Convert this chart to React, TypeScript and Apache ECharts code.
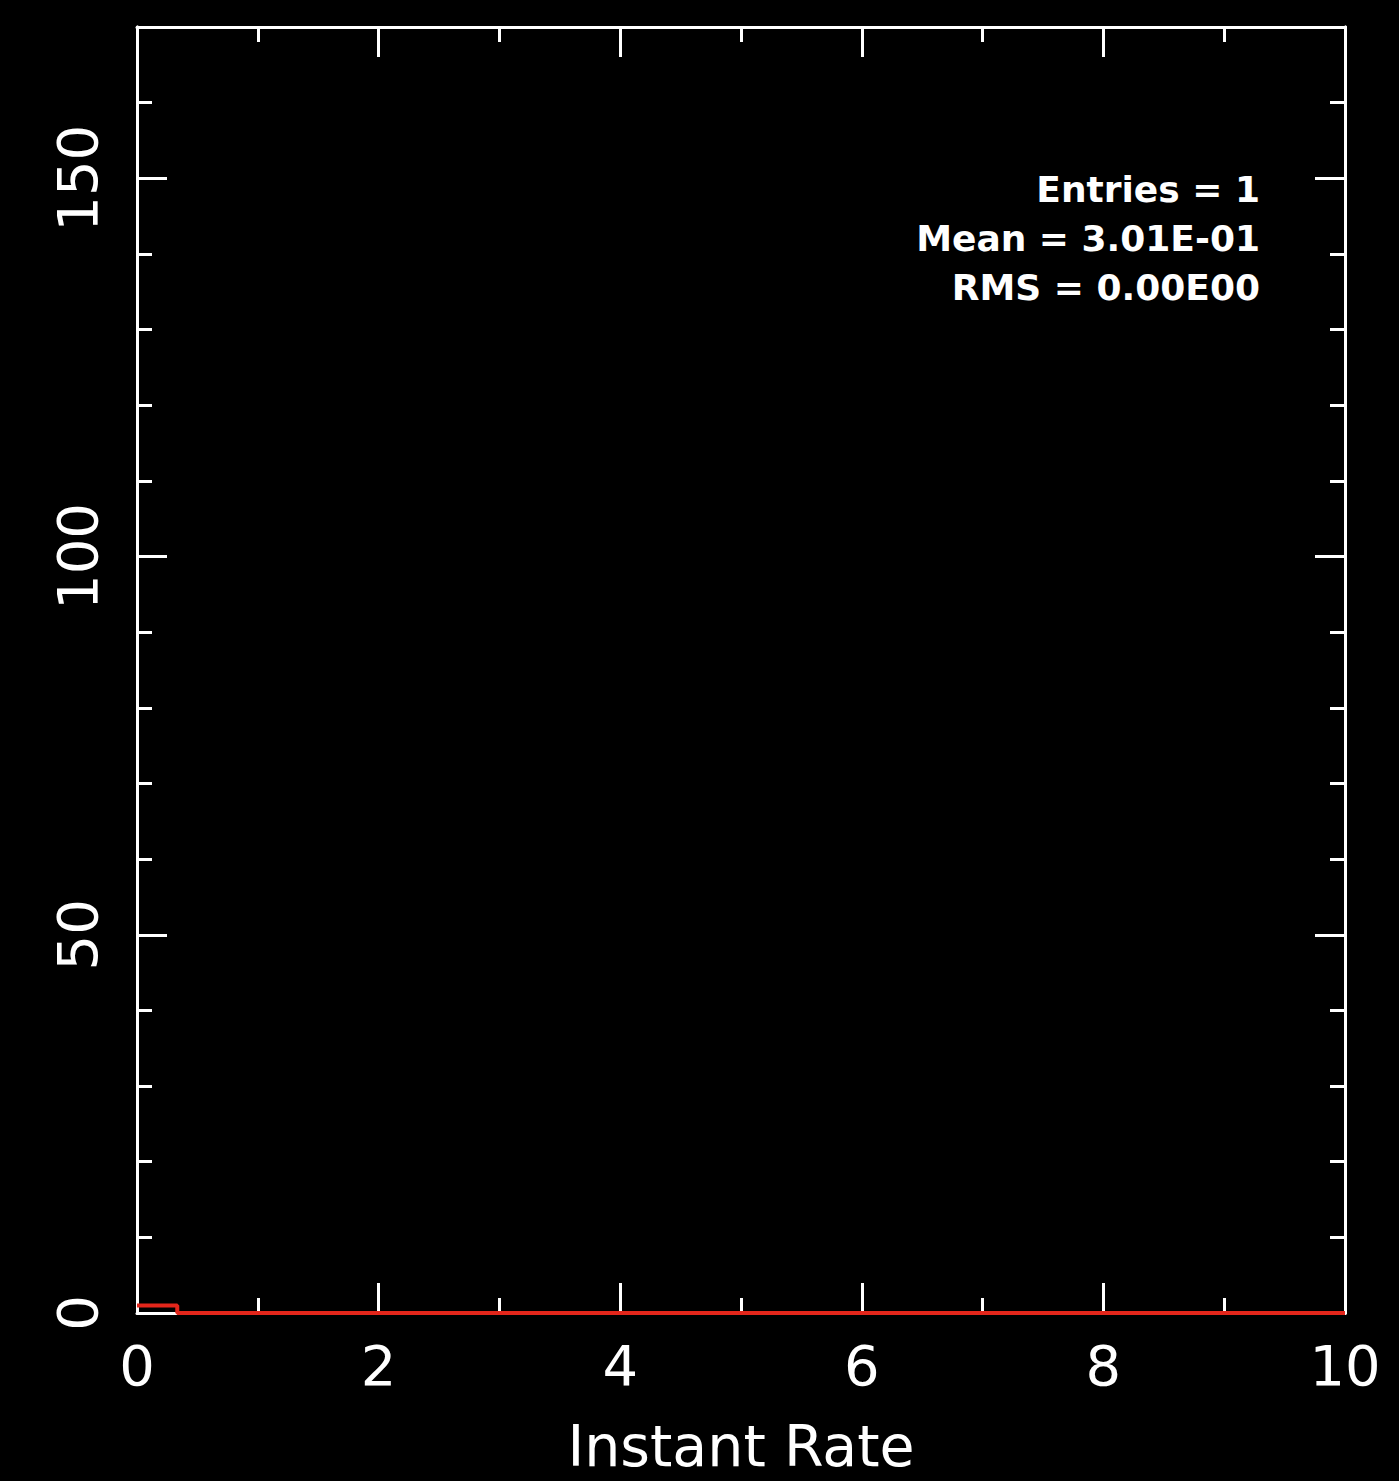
import { useEffect, useRef } from "react";
import * as echarts from "echarts";

// Histogram of instant rate: 30 bins over [0, 10]
const BIN_WIDTH = 1 / 3;
const binCounts = [
  1, 0, 0, 0, 0, 0, 0, 0, 0, 0,
  0, 0, 0, 0, 0, 0, 0, 0, 0, 0,
  0, 0, 0, 0, 0, 0, 0, 0, 0, 0,
];

// Axis ranges and tick spacing
const X_MIN = 0;
const X_MAX = 10;
const X_MAJOR = 2;
const Y_MIN = 0;
const Y_MAX = 170;
const Y_MAJOR = 50;
const Y_MINOR = 10;

const X_TITLE = "Instant Rate";
const statLines = ["Entries = 1", "Mean = 3.01E-01", "RMS = 0.00E00"];

const FONT = "DejaVu Sans";
const WHITE = "#ffffff";
const HIST_RED = "#e3261b";

export default function App() {
  const ref = useRef<HTMLDivElement | null>(null);

  useEffect(() => {
    if (!ref.current) return;
    const chart = echarts.init(ref.current, undefined, { renderer: "svg" });

    // outline of the histogram as a step path
    const stepPoints: number[][] = [];
    binCounts.forEach((c, i) => {
      stepPoints.push([i * BIN_WIDTH, c]);
      stepPoints.push([Math.min((i + 1) * BIN_WIDTH, X_MAX), c]);
    });

    const line = { color: WHITE, width: 3 };

    const xBase = {
      type: "value" as const,
      min: X_MIN,
      max: X_MAX,
      interval: X_MAJOR,
      axisLine: { show: true, onZero: false, lineStyle: line },
      axisTick: { show: true, inside: true, length: 30, lineStyle: line },
      minorTick: { show: true, splitNumber: 2, length: 15, lineStyle: line },
      splitLine: { show: false },
      minorSplitLine: { show: false },
    };

    const yBase = (interval: number, len: number, pos: "left" | "right") => ({
      type: "value" as const,
      position: pos,
      min: Y_MIN,
      max: Y_MAX,
      interval,
      axisLine: { show: true, onZero: false, lineStyle: line },
      axisTick: { show: true, inside: true, length: len, lineStyle: line },
      splitLine: { show: false },
      axisLabel: { show: false },
    });

    chart.setOption({
      animation: false,
      backgroundColor: "#000000",
      grid: {
        left: 137,
        right: 54,
        top: 27,
        bottom: 168,
        outerBoundsMode: "none",
      },
      xAxis: [
        {
          ...xBase,
          position: "bottom",
          axisLabel: {
            color: WHITE,
            fontFamily: FONT,
            fontSize: 56,
            margin: 24,
          },
          name: X_TITLE,
          nameLocation: "middle",
          nameGap: 104,
          nameTextStyle: {
            color: WHITE,
            fontFamily: FONT,
            fontSize: 57,
          },
        },
        {
          ...xBase,
          position: "top",
          axisLabel: { show: false },
        },
      ],
      yAxis: [
        {
          ...yBase(Y_MAJOR, 30, "left"),
          axisLabel: {
            show: true,
            rotate: 90,
            color: WHITE,
            fontFamily: FONT,
            fontSize: 56,
            margin: 32,
            showMaxLabel: false,
          },
        },
        yBase(Y_MINOR, 15, "left"),
        yBase(Y_MAJOR, 30, "right"),
        yBase(Y_MINOR, 15, "right"),
      ],
      series: [
        {
          type: "line",
          xAxisIndex: 0,
          yAxisIndex: 0,
          data: stepPoints,
          showSymbol: false,
          symbol: "none",
          lineStyle: { color: HIST_RED, width: 4 },
          z: 5,
        },
      ],
      graphic: statLines.map((t, i) => ({
        type: "text",
        x: 1260,
        y: 189 + i * 49,
        z: 10,
        style: {
          text: t,
          fill: WHITE,
          fontFamily: FONT,
          fontWeight: "bold",
          fontSize: 36,
          align: "right",
          verticalAlign: "middle",
        },
      })),
    });

    return () => chart.dispose();
  }, []);

  return (
    <div
      ref={ref}
      style={{
        position: "absolute",
        left: 0,
        top: 0,
        width: 1399,
        height: 1481,
        background: "#000000",
      }}
    />
  );
}
